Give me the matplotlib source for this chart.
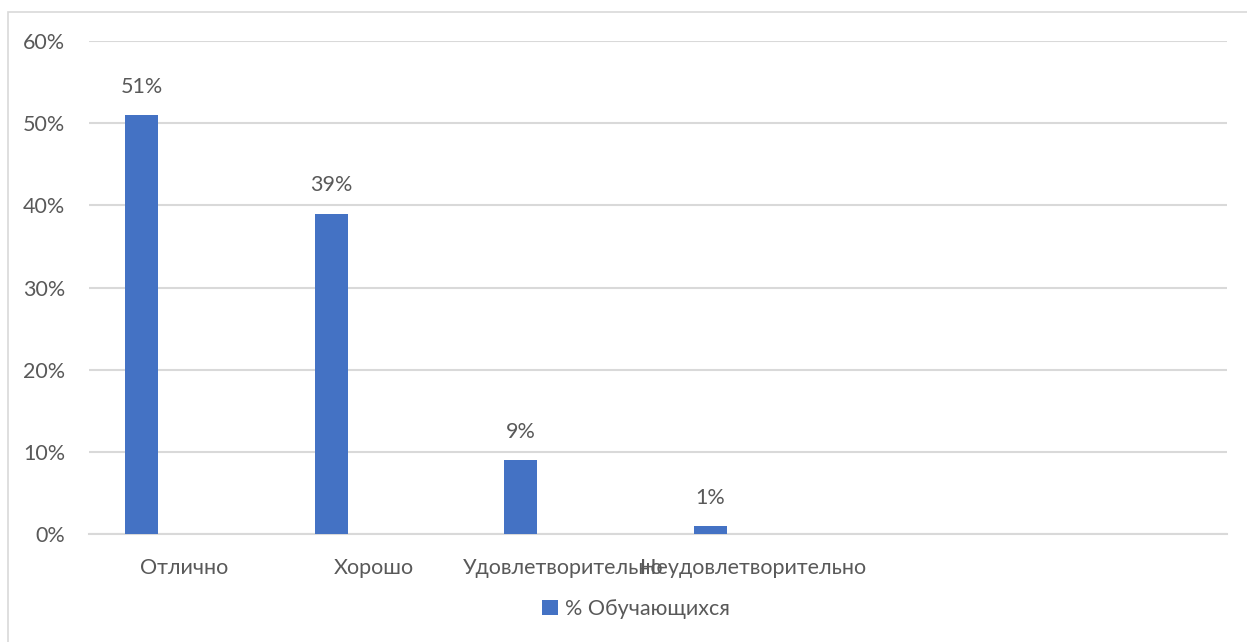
import matplotlib.pyplot as plt
from matplotlib.patches import Rectangle

# Data
categories = ['Отлично', 'Хорошо', 'Удовлетворительно', 'Неудовлетворительно', '', '']
values = [51, 39, 9, 1, None, None]
labels = ['51%', '39%', '9%', '1%']
series_name = '% Обучающихся'
yticks = [0, 10, 20, 30, 40, 50, 60]

plt.rcParams['font.family'] = ['Lato', 'DejaVu Sans']
text_color = '#595959'
bar_color = '#4472C4'
grid_color = '#D9D9D9'
fs = 15.5

fig = plt.figure(figsize=(12.47, 6.42), dpi=100)
ax = fig.add_axes([89 / 1247, 1 - 534 / 642, (1227 - 89) / 1247, (534 - 41) / 642])

# chart area border
fig.patches.append(Rectangle((8 / 1247, -0.1), 1.2, 1 - 12 / 642 + 0.1,
                             transform=fig.transFigure, fill=False,
                             edgecolor='#D9D9D9', linewidth=1.2))

xs = [i for i, v in enumerate(values) if v is not None]
vals = [v for v in values if v is not None]
offset = -0.223
width = 0.174
bars = ax.bar([x + offset for x in xs], vals, width=width, color=bar_color,
              label=series_name, zorder=3)

for b, lab in zip(bars, labels):
    ax.text(b.get_x() + b.get_width() / 2, b.get_height() + 2.2, lab,
            ha='center', va='bottom', fontsize=fs, color=text_color)

ax.set_xlim(-0.5, len(categories) - 0.5)
ax.set_ylim(0, 60)
ax.set_yticks(yticks)
ax.set_yticklabels([f'{t}%' for t in yticks], fontsize=fs, color=text_color)
ax.set_xticks(range(len(categories)))
ax.set_xticklabels(categories, fontsize=fs, color=text_color)
ax.tick_params(axis='both', length=0)
ax.tick_params(axis='y', pad=17)
ax.tick_params(axis='x', pad=17)

ax.grid(axis='y', color=grid_color, linewidth=1.5, zorder=0)
for s in ['top', 'right', 'left']:
    ax.spines[s].set_visible(False)
ax.spines['bottom'].set_color(grid_color)
ax.spines['bottom'].set_linewidth(1.5)

fig.legend(handles=[bars], labels=[series_name], loc='center',
           bbox_to_anchor=(636 / 1247, 1 - 609 / 642), frameon=False,
           fontsize=fs, labelcolor=text_color, handlelength=0.75,
           handleheight=0.75, handletextpad=0.3)

fig.savefig('out.png', dpi=100)
